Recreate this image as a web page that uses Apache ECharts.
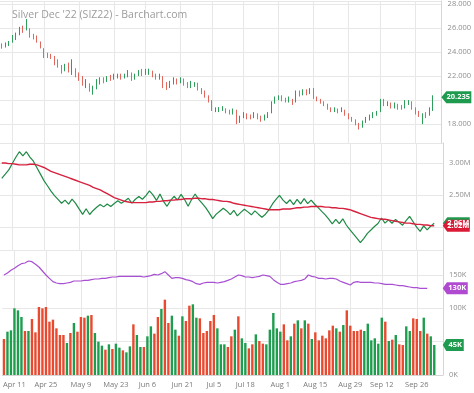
<!DOCTYPE html>
<html>
<head>
<meta charset="utf-8">
<script src="https://cdn.jsdelivr.net/npm/echarts@6/dist/echarts.min.js"></script>
<style>
html,body{margin:0;padding:0;background:#fff;}
#chart{width:474px;height:393px;}
</style>
</head>
<body>
<div id="chart"></div>
<script>
// Trading days (categories); last two are empty padding slots on the right
const dates = ['Apr 6','Apr 7','Apr 8','Apr 11','Apr 12','Apr 13','Apr 14','Apr 18','Apr 19','Apr 20','Apr 21','Apr 22','Apr 25','Apr 26','Apr 27','Apr 28','Apr 29',
'May 2','May 3','May 4','May 5','May 6','May 9','May 10','May 11','May 12','May 13','May 16','May 17','May 18','May 19','May 20','May 23','May 24','May 25','May 26','May 27','May 31',
'Jun 1','Jun 2','Jun 3','Jun 6','Jun 7','Jun 8','Jun 9','Jun 10','Jun 13','Jun 14','Jun 15','Jun 16','Jun 17','Jun 21','Jun 22','Jun 23','Jun 24','Jun 27','Jun 28','Jun 29','Jun 30',
'Jul 1','Jul 5','Jul 6','Jul 7','Jul 8','Jul 11','Jul 12','Jul 13','Jul 14','Jul 15','Jul 18','Jul 19','Jul 20','Jul 21','Jul 22','Jul 25','Jul 26','Jul 27','Jul 28','Jul 29',
'Aug 1','Aug 2','Aug 3','Aug 4','Aug 5','Aug 8','Aug 9','Aug 10','Aug 11','Aug 12','Aug 15','Aug 16','Aug 17','Aug 18','Aug 19','Aug 22','Aug 23','Aug 24','Aug 25','Aug 26','Aug 29','Aug 30','Aug 31',
'Sep 1','Sep 2','Sep 6','Sep 7','Sep 8','Sep 9','Sep 12','Sep 13','Sep 14','Sep 15','Sep 16','Sep 19','Sep 20','Sep 21','Sep 22','Sep 23','Sep 26','Sep 27','Sep 28','Sep 29','Sep 30',
'Oct 3','Oct 4','Oct 5'];

const labelDates = ['Apr 11','Apr 25','May 9','May 23','Jun 6','Jun 21','Jul 5','Jul 18','Aug 1','Aug 15','Aug 29','Sep 12','Sep 26'];

const priceTicks = [18, 22, 24, 26, 28];
const obvTicks = [2.5, 3.0];
const volTicks = [0, 100, 150];

const open = [24.65,24.42,24.60,
24.85,25.25,25.50,26.05,25.90,25.90,25.40,25.20,24.85,24.30,
23.90,23.80,23.55,23.30,22.85,22.45,22.90,22.50,22.60,22.25,
21.95,21.10,21.35,20.75,21.00,21.45,21.80,21.55,21.95,21.75,
21.95,22.15,21.85,22.00,22.20,21.75,22.05,22.40,22.20,22.30,
22.40,22.10,21.80,21.90,21.30,21.05,21.40,21.70,21.50,21.70,
21.35,21.10,21.30,21.40,20.90,20.65,20.35,19.95,19.15,19.25,
19.30,19.30,19.05,18.90,19.10,18.30,18.60,18.80,18.65,18.55,
18.80,18.65,18.40,18.60,18.95,19.80,20.15,20.30,20.05,19.90,
20.05,19.85,20.60,20.45,20.80,20.55,20.90,20.25,20.05,19.85,
19.60,19.35,19.05,19.25,19.05,19.20,18.85,18.55,18.35,18.05,
17.80,18.20,18.45,18.60,18.80,19.05,19.95,19.55,19.70,19.40,
19.60,19.50,19.35,19.70,19.85,19.35,18.95,18.40,18.80,18.70,19.15];

const close = [24.40,24.62,24.82,
25.30,25.52,26.00,25.85,26.50,25.35,25.15,24.90,24.42,23.62,
23.58,23.50,23.00,22.80,22.32,22.80,22.52,22.95,22.00,21.70,
21.30,21.50,20.90,21.10,21.60,21.80,21.50,21.90,21.70,22.00,
22.10,21.90,22.00,22.30,21.70,22.00,22.30,22.20,22.40,22.50,
22.00,21.80,22.00,21.20,21.00,21.40,21.70,21.50,21.70,21.30,
21.10,21.30,21.40,20.90,20.60,20.30,19.90,19.20,19.30,19.35,
19.40,19.00,18.90,19.10,18.30,18.60,18.80,18.60,18.50,18.90,
18.60,18.40,18.60,18.90,19.80,20.20,20.30,20.00,19.90,20.10,
19.70,20.60,20.40,20.80,20.50,20.90,20.20,20.00,19.80,19.60,
19.30,19.10,19.30,19.00,19.20,18.80,18.50,18.30,18.00,17.70,
18.20,18.50,18.70,18.80,19.00,20.00,19.60,19.70,19.40,19.60,
19.50,19.30,19.75,19.85,19.30,18.90,18.70,18.80,18.60,19.10,20.235];

const low = [24.28,24.38,24.50,
24.78,25.00,25.40,25.60,25.80,25.20,25.05,24.78,24.30,23.50,
23.50,23.42,22.90,22.70,22.20,22.40,22.30,22.10,21.90,21.60,
21.20,21.00,20.70,20.45,20.90,21.30,21.40,21.50,21.60,21.70,
21.80,21.70,21.80,21.90,21.60,21.70,22.00,22.00,22.10,22.10,
21.90,21.70,21.70,21.00,20.85,21.00,21.30,21.30,21.40,21.20,
21.00,21.00,21.10,20.80,20.50,20.20,19.80,19.10,19.00,19.00,
19.10,18.90,18.80,18.80,18.00,18.10,18.50,18.40,18.40,18.50,
18.40,18.20,18.30,18.50,18.90,19.70,20.00,19.90,19.80,19.80,
19.60,19.80,20.30,20.40,20.40,20.50,20.10,19.90,19.70,19.50,
19.20,19.00,19.00,18.90,19.00,18.70,18.40,18.20,17.90,17.55,
17.70,18.10,18.30,18.50,18.70,19.00,19.50,19.50,19.30,19.30,
19.20,19.20,19.30,19.60,19.20,18.80,18.60,18.00,18.50,18.70,19.10];

const high = [24.72,24.80,24.92,
25.42,25.62,26.10,26.20,26.75,25.98,25.52,25.38,24.88,24.32,
23.95,23.85,23.68,23.40,22.92,23.02,23.12,23.40,22.65,22.30,
22.00,21.75,21.40,21.20,21.75,21.90,21.90,22.00,22.10,22.20,
22.20,22.20,22.20,22.50,22.30,22.20,22.50,22.60,22.60,22.62,
22.45,22.20,22.20,22.00,21.50,21.60,21.90,21.80,21.90,21.80,
21.50,21.60,21.50,21.45,21.00,20.80,20.40,20.00,19.40,19.42,
19.50,19.32,19.20,19.30,19.20,18.70,19.00,18.90,18.80,19.00,
18.90,18.70,18.80,19.00,19.90,20.30,20.40,20.40,20.20,20.30,
20.10,20.80,20.80,20.90,20.90,21.00,21.00,20.30,20.10,19.90,
19.70,19.40,19.40,19.30,19.40,19.20,18.90,18.60,18.40,18.10,
18.30,18.60,18.80,19.00,19.10,20.10,20.10,19.90,19.80,19.80,
19.70,19.60,20.00,20.00,19.90,19.40,19.10,18.90,19.00,19.40,20.40];

// Volume (thousands)
const volume = [54,65,67,
100,97,87,66,66,84,64,102,100,102,
80,83,70,60,60,48,63,78,65,87,
86,89,90,63,50,44,38,46,39,47,
41,37,34,43,76,60,42,42,58,73,
62,87,99,113,78,89,68,59,88,81,
104,106,86,85,63,66,81,90,70,46,
46,42,58,68,88,55,48,40,46,61,
51,47,46,68,93,70,65,76,52,58,
77,82,70,82,77,54,64,52,59,55,
67,74,70,65,75,97,74,66,66,68,
66,77,52,55,47,86,80,51,53,60,
46,45,73,66,85,84,66,86,62,58,45];

// Green indicator line (millions)
const obv = [2.760,2.825,2.892,
2.992,3.089,3.176,3.110,3.176,3.092,3.028,2.926,2.826,2.724,
2.644,2.561,2.491,2.431,2.371,2.419,2.356,2.434,2.369,2.282,
2.196,2.285,2.195,2.258,2.308,2.352,2.314,2.360,2.321,2.368,
2.409,2.372,2.406,2.449,2.373,2.433,2.475,2.433,2.491,2.564,
2.502,2.415,2.514,2.401,2.323,2.412,2.480,2.421,2.509,2.428,
2.324,2.430,2.516,2.431,2.368,2.302,2.221,2.131,2.201,2.247,
2.293,2.251,2.193,2.261,2.173,2.228,2.276,2.236,2.190,2.251,
2.200,2.153,2.199,2.267,2.360,2.430,2.495,2.419,2.367,2.425,
2.348,2.430,2.360,2.442,2.365,2.419,2.355,2.303,2.244,2.189,
2.122,2.048,2.118,2.053,2.128,2.031,1.957,1.891,1.825,1.757,
1.823,1.900,1.952,2.007,2.054,2.140,2.060,2.111,2.058,2.118,
2.072,2.027,2.100,2.166,2.081,1.997,1.931,2.017,1.955,2.013,2.058];

// Red average line (millions)
const obvAvg = [3.00,3.00,2.99,
2.99,2.98,2.97,2.97,2.97,2.98,2.98,2.97,2.95,2.93,
2.90,2.87,2.85,2.83,2.81,2.79,2.77,2.75,2.73,2.71,
2.69,2.67,2.65,2.62,2.60,2.58,2.55,2.52,2.49,2.46,
2.44,2.42,2.40,2.39,2.38,2.38,2.38,2.38,2.38,2.39,
2.39,2.40,2.40,2.41,2.41,2.42,2.42,2.43,2.43,2.44,
2.44,2.44,2.45,2.45,2.44,2.44,2.43,2.43,2.42,2.41,
2.40,2.40,2.39,2.37,2.36,2.35,2.34,2.33,2.32,2.31,
2.30,2.29,2.28,2.27,2.27,2.27,2.27,2.28,2.28,2.28,
2.29,2.30,2.30,2.31,2.31,2.32,2.32,2.32,2.32,2.31,
2.31,2.30,2.30,2.29,2.29,2.28,2.27,2.25,2.23,2.21,
2.19,2.17,2.15,2.14,2.13,2.12,2.12,2.11,2.10,2.09,
2.08,2.07,2.06,2.06,2.05,2.04,2.04,2.03,2.03,2.02,2.02];

// Purple line (thousands), last two days not yet reported
const openInt = [150,153,157,
160,164,167,168,171,170,166,162,156,150,
145,140,138,137,137,138,139,141,141,141,
142,142,143,144,144,145,145,146,147,147,
148,148,148,148,148,148,148,147,148,149,
151,150,152,155,150,145,146,146,145,143,
142,140,137,136,138,139,139,139,138,139,
140,142,144,147,150,149,147,147,146,147,
148,150,149,148,143,139,136,136,137,138,
140,141,142,144,150,148,147,145,145,144,
145,145,144,141,139,137,135,139,140,139,
139,139,139,138,138,137,136,136,136,135,
134,134,133,132,131,131,130,130,130,null,null];

const lastPrice = 20.235, lastObv = 2.058, lastObvAvg = 2.02, lastOI = 130, lastVol = 45;

const GREEN_C = '#2e9e5a', RED_C = '#e2675d';
const GREEN_V = '#1f9d4f', RED_V = '#e8492f';
const GRID_C = '#e7e7e7', AXIS_C = '#d6d6d6', LABEL_C = '#8e8e8e';
const FONT = 'Open Sans';

const labelSet = new Set(labelDates);
const showCat = (idx, val) => labelSet.has(val);
const lastCat = dates[dates.length - 1];

function tag(value, text, color, w) {
  return {
    silent: true,
    symbol: 'path://M0,6L5,0L30,0L30,12L5,12Z',
    symbolSize: [w, 12],
    symbolKeepAspect: false,
    symbolOffset: [w / 2 + 1.5, 0],
    label: {
      show: true, position: 'inside', offset: [2, 0],
      color: '#fff', fontSize: 7.5, fontWeight: 'bold', fontFamily: FONT,
      formatter: text
    },
    itemStyle: { color: color },
    data: [{ coord: [lastCat, value] }]
  };
}

const candles = open.map((o, i) => [o, close[i], low[i], high[i]]);

const grids = [
  { left: 0, right: 31, top: 0, height: 143 },
  { left: 0, right: 31, top: 143, height: 107 },
  { left: 0, right: 31, top: 250, height: 125 }
];

const xAxes = [0, 1, 2].map(i => ({
  type: 'category', gridIndex: i, data: dates, boundaryGap: true,
  axisLine: { show: i === 2, lineStyle: { color: AXIS_C } },
  axisTick: { show: false, alignWithLabel: true },
  axisLabel: { show: i === 2, interval: showCat, color: '#7a7a7a', fontSize: 7.5, fontFamily: FONT, margin: 6 },
  splitLine: { show: true, interval: showCat, alignWithLabel: true, lineStyle: { color: GRID_C, width: 1 } }
}));

function yAx(i, min, max, extra, shown, fmt) {
  return Object.assign({
    type: 'value', gridIndex: i, position: 'right', min: min, max: max,
    axisLine: { show: true, lineStyle: { color: AXIS_C } },
    axisTick: { show: false },
    axisLabel: {
      showMinLabel: i === 2, showMaxLabel: false,
      color: LABEL_C, fontSize: 7.5, fontFamily: FONT, margin: 6,
      formatter: v => shown.some(t => Math.abs(t - v) < 1e-6) ? fmt(v) : ''
    },
    splitLine: { show: true, lineStyle: { color: GRID_C, width: 1 } }
  }, extra);
}

const option = {
  animation: false,
  backgroundColor: '#fff',
  title: {
    text: "Silver Dec '22 (SIZ22) - Barchart.com",
    left: 7, top: 5,
    textStyle: { fontSize: 10.5, color: '#9c9c9c', fontWeight: 'normal', fontFamily: FONT }
  },
  grid: grids,
  xAxis: xAxes,
  yAxis: [
    yAx(0, 16.43, 28.25, { splitNumber: 5 }, priceTicks, v => v.toFixed(3)),
    yAx(1, 1.64, 3.3125, { splitNumber: 4 }, obvTicks, v => v.toFixed(2) + 'M'),
    yAx(2, 0, 187.5, { interval: 50 }, volTicks, v => v + 'K')
  ],
  series: [
    {
      type: 'candlestick', xAxisIndex: 0, yAxisIndex: 0, data: candles,
      barWidth: 1.2,
      itemStyle: { color: GREEN_C, color0: RED_C, borderColor: GREEN_C, borderColor0: RED_C, borderWidth: 1 },
      markPoint: tag(lastPrice, String(lastPrice.toFixed(3)), '#1e9b4f', 30)
    },
    {
      type: 'line', xAxisIndex: 1, yAxisIndex: 1, data: obv, symbol: 'none',
      lineStyle: { color: '#1f8a46', width: 1.2 }, z: 2,
      markPoint: tag(lastObv, lastObv.toFixed(2) + 'M', '#1e9b4f', 27)
    },
    {
      type: 'line', xAxisIndex: 1, yAxisIndex: 1, data: obvAvg, symbol: 'none',
      lineStyle: { color: '#d7223f', width: 1.4 }, z: 3,
      markPoint: tag(lastObvAvg, lastObvAvg.toFixed(2) + 'M', '#db1a35', 27)
    },
    {
      type: 'bar', xAxisIndex: 2, yAxisIndex: 2, data: volume, barWidth: 2.4,
      itemStyle: { color: p => close[p.dataIndex] >= open[p.dataIndex] ? GREEN_V : RED_V },
      markPoint: tag(lastVol, lastVol + 'K', '#1e9b4f', 21)
    },
    {
      type: 'line', xAxisIndex: 2, yAxisIndex: 2, data: openInt, symbol: 'none',
      lineStyle: { color: '#a94fd2', width: 1.2 }, z: 3,
      markPoint: tag(lastOI, lastOI + 'K', '#b04ad0', 25)
    }
  ]
};

const chart = echarts.init(document.getElementById('chart'), null, { renderer: 'canvas' });
chart.setOption(option);
</script>
</body>
</html>
